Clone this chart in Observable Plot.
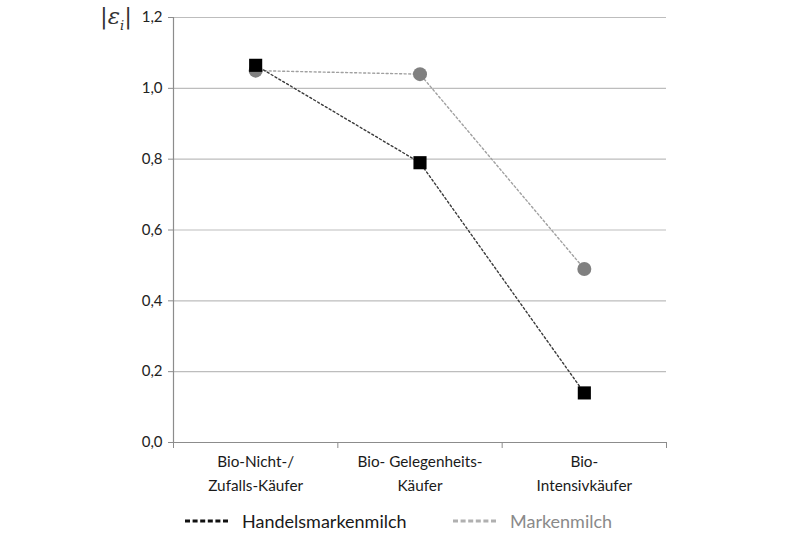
<!DOCTYPE html>
<html>
<head>
<meta charset="utf-8">
<script src="https://cdn.jsdelivr.net/npm/d3@7"></script>
<script src="https://cdn.jsdelivr.net/npm/@observablehq/plot@0.6"></script>
<style>
  body { margin: 0; background: #fff; font-family: Lato, "Open Sans", sans-serif; }
  #wrap { position: relative; width: 800px; height: 533px; }
  #ylab { position: absolute; left: 100px; top: 3px; font-family: "DejaVu Serif", serif; font-size: 23px; color: #333; }
  #ylab sub { font-size: 13px; }
  #legend { position: absolute; left: 0; top: 510px; width: 800px; height: 24px; font-size: 18px; }
  .item { position: absolute; top: 0; display: flex; align-items: center; }
  .item svg { margin-right: 12px; }
</style>
</head>
<body>
<div id="wrap">
  <div id="chart"></div>
  <div id="ylab">|<i>ε<sub>i</sub></i>|</div>
  <div id="legend"></div>
</div>
<script>
const categories = ["Bio-Nicht-/\nZufalls-Käufer", "Bio- Gelegenheits-\nKäufer", "Bio-\nIntensivkäufer"];
const handelsmarken = [1.065, 0.79, 0.14];
const marken = [1.05, 1.04, 0.49];
const yTicks = [0, 0.2, 0.4, 0.6, 0.8, 1.0, 1.2];
const seriesNames = ["Handelsmarkenmilch", "Markenmilch"];

const rows = [];
categories.forEach((c, i) => {
  rows.push({i: i + 0.5, series: seriesNames[0], v: handelsmarken[i]});
  rows.push({i: i + 0.5, series: seriesNames[1], v: marken[i]});
});
const H = rows.filter(d => d.series === seriesNames[0]);
const M = rows.filter(d => d.series === seriesNames[1]);
const fmt = v => d3.format(".1f")(v).replace(".", ",");

const plot = Plot.plot({
  width: 800,
  height: 505,
  marginLeft: 173,
  marginRight: 134,
  marginTop: 17,
  marginBottom: 63,
  style: {fontFamily: "Lato, 'Open Sans', sans-serif", fontSize: "15px", color: "#222", background: "#fff"},
  x: {type: "linear", domain: [0, categories.length]},
  y: {domain: [0, 1.2]},
  marks: [
    Plot.gridY(yTicks, {stroke: "#bdbdbd", strokeOpacity: 1, strokeWidth: 1.2}),
    Plot.ruleX([0], {stroke: "#8c8c8c", strokeWidth: 1.2}),
    Plot.ruleY([0], {stroke: "#8c8c8c", strokeWidth: 1.2}),
    Plot.axisY({ticks: yTicks, tickFormat: fmt, tickSize: 5, tickPadding: 6, stroke: "#8c8c8c", fontSize: 15, fill: "#222", label: null}),
    Plot.axisX({ticks: d3.range(categories.length + 1), tickFormat: () => "", tickSize: 6, stroke: "#8c8c8c", label: null}),
    Plot.axisX({ticks: categories.map((c, i) => i + 0.5), tickSize: 0, tickPadding: 7, tickFormat: v => categories[Math.floor(v)], lineHeight: 1.58, fontSize: 15.3, fill: "#1a1a1a", label: null}),
    Plot.line(M, {x: "i", y: "v", stroke: "#a0a0a0", strokeWidth: 1.4, strokeDasharray: "2,2.5"}),
    Plot.line(H, {x: "i", y: "v", stroke: "#3a3a3a", strokeWidth: 1.4, strokeDasharray: "2,2.5"}),
    Plot.dot(M, {x: "i", y: "v", r: 7, fill: "#808080", stroke: "none"}),
    Plot.dot(H, {x: "i", y: "v", symbol: "square", r: 7.4, fill: "#000", stroke: "none"})
  ]
});
document.getElementById("chart").appendChild(plot);

const legend = document.getElementById("legend");
const legendItems = [
  {name: seriesNames[0], color: "#111", text: "#1a1a1a", left: 185},
  {name: seriesNames[1], color: "#b0b0b0", text: "#8a8a8a", left: 453}
];
legendItems.forEach(d => {
  const el = document.createElement("div");
  el.className = "item";
  el.style.left = d.left + "px";
  el.innerHTML = `<svg width="45" height="6"><line x1="0" x2="45" y1="3" y2="3" stroke="${d.color}" stroke-width="3.2" stroke-dasharray="5,2.6"/></svg><span style="color:${d.text}">${d.name}</span>`;
  legend.appendChild(el);
});
</script>
</body>
</html>
